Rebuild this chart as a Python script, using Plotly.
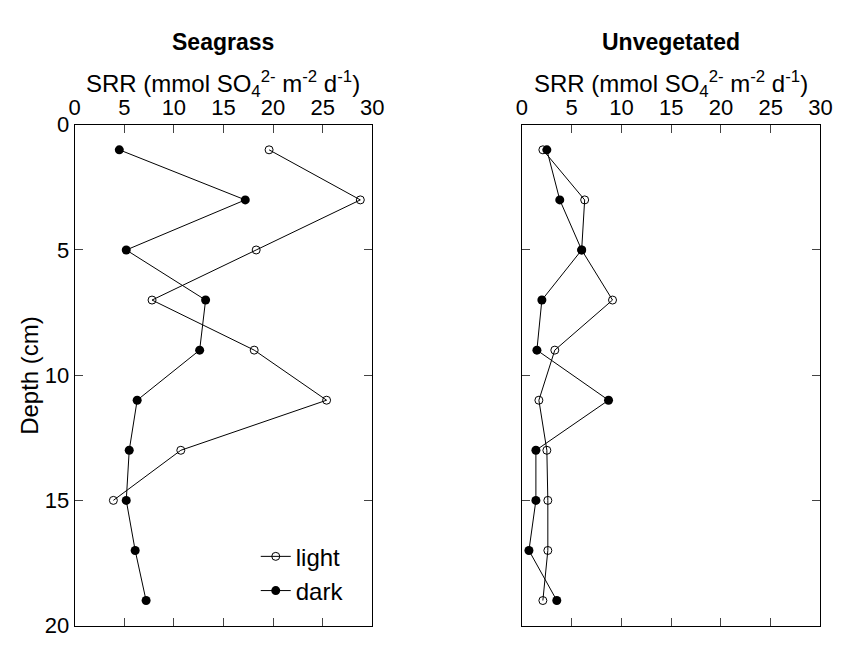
import plotly.graph_objects as go

depth_light_sg = [1, 3, 5, 7, 9, 11, 13, 15]
srr_light_sg = [19.6, 28.8, 18.3, 7.8, 18.1, 25.4, 10.7, 3.9]
depth_dark_sg = [1, 3, 5, 7, 9, 11, 13, 15, 17, 19]
srr_dark_sg = [4.5, 17.2, 5.2, 13.2, 12.6, 6.3, 5.5, 5.2, 6.1, 7.2]

depth_unveg = [1, 3, 5, 7, 9, 11, 13, 15, 17, 19]
srr_light_un = [2.1, 6.3, 6.0, 9.1, 3.3, 1.7, 2.5, 2.6, 2.6, 2.1]
srr_dark_un = [2.5, 3.8, 6.0, 2.0, 1.5, 8.7, 1.4, 1.4, 0.7, 3.5]

x_ticks = [0, 5, 10, 15, 20, 25, 30]
y_ticks = [0, 5, 10, 15, 20]

FONT = "Liberation Sans, Arial, sans-serif"
W, H = 847, 645
OFF = 8  # page body margin offset


def px_x(v):
    return (v - OFF) / W


def px_y(v):
    return 1 - (v - OFF) / H


light_marker = dict(symbol="circle-open", size=8, color="black", line=dict(width=1, color="black"))
dark_marker = dict(symbol="circle", size=9, color="black")
line_style = dict(color="black", width=1)

fig = go.Figure()
fig.add_trace(go.Scatter(x=srr_light_sg, y=depth_light_sg, mode="lines+markers", name="light",
                         marker=light_marker, line=line_style, xaxis="x", yaxis="y"))
fig.add_trace(go.Scatter(x=srr_dark_sg, y=depth_dark_sg, mode="lines+markers", name="dark",
                         marker=dark_marker, line=line_style, xaxis="x", yaxis="y"))
fig.add_trace(go.Scatter(x=srr_light_un, y=depth_unveg, mode="lines+markers", name="light",
                         marker=light_marker, line=line_style, xaxis="x2", yaxis="y2", showlegend=False))
fig.add_trace(go.Scatter(x=srr_dark_un, y=depth_unveg, mode="lines+markers", name="dark",
                         marker=dark_marker, line=line_style, xaxis="x2", yaxis="y2", showlegend=False))

ytop = px_y(117)
ybot = px_y(638)
dom1 = [px_x(70), px_x(374)]
dom2 = [px_x(527), px_x(832)]

xcommon = dict(range=[0, 30], tickvals=x_ticks, side="top", ticks="inside", ticklen=8,
               showline=True, linecolor="black", linewidth=1, mirror="ticks",
               showgrid=False, zeroline=False, tickfont=dict(size=22, color="black", family=FONT),
               fixedrange=True)
ycommon = dict(range=[20, 0], tickvals=y_ticks, ticks="inside", ticklen=8,
               showline=True, linecolor="black", linewidth=1, mirror="ticks",
               showgrid=False, zeroline=False, tickfont=dict(size=22, color="black", family=FONT),
               domain=[ybot, ytop], fixedrange=True)

fig.update_layout(
    width=W, height=H,
    margin=dict(l=0, r=0, t=0, b=0),
    paper_bgcolor="white", plot_bgcolor="white",
    font=dict(family=FONT, color="black"),
    xaxis=dict(xcommon, domain=dom1, anchor="y"),
    yaxis=dict(ycommon, anchor="x"),
    xaxis2=dict(xcommon, domain=dom2, anchor="y2"),
    yaxis2=dict(ycommon, anchor="x2", showticklabels=False),
    legend=dict(x=px_x(255), y=px_y(543), xanchor="left", yanchor="top", bgcolor="rgba(0,0,0,0)",
                font=dict(size=24, family=FONT, color="black"), tracegroupgap=0,
                itemwidth=30),
    showlegend=True,
)

axis_title = "SRR (mmol SO<sub>4</sub><sup>2-</sup> m<sup>-2</sup> d<sup>-1</sup>)"
for dom, title in [(dom1, "Seagrass"), (dom2, "Unvegetated")]:
    cx = (dom[0] + dom[1]) / 2
    fig.add_annotation(x=cx, y=px_y(31), xref="paper", yref="paper", text="<b>" + title + "</b>",
                       showarrow=False, font=dict(size=23, family=FONT, color="black"),
                       xanchor="center", yanchor="middle")
    fig.add_annotation(x=cx, y=px_y(75), xref="paper", yref="paper", text=axis_title,
                       showarrow=False, font=dict(size=24, family=FONT, color="black"),
                       xanchor="center", yanchor="middle")

fig.add_annotation(x=px_x(23), y=(ytop + ybot) / 2, xref="paper", yref="paper", text="Depth (cm)",
                   textangle=-90, showarrow=False, font=dict(size=24, family=FONT, color="black"),
                   xanchor="center", yanchor="middle")

fig.write_html("out.html")
